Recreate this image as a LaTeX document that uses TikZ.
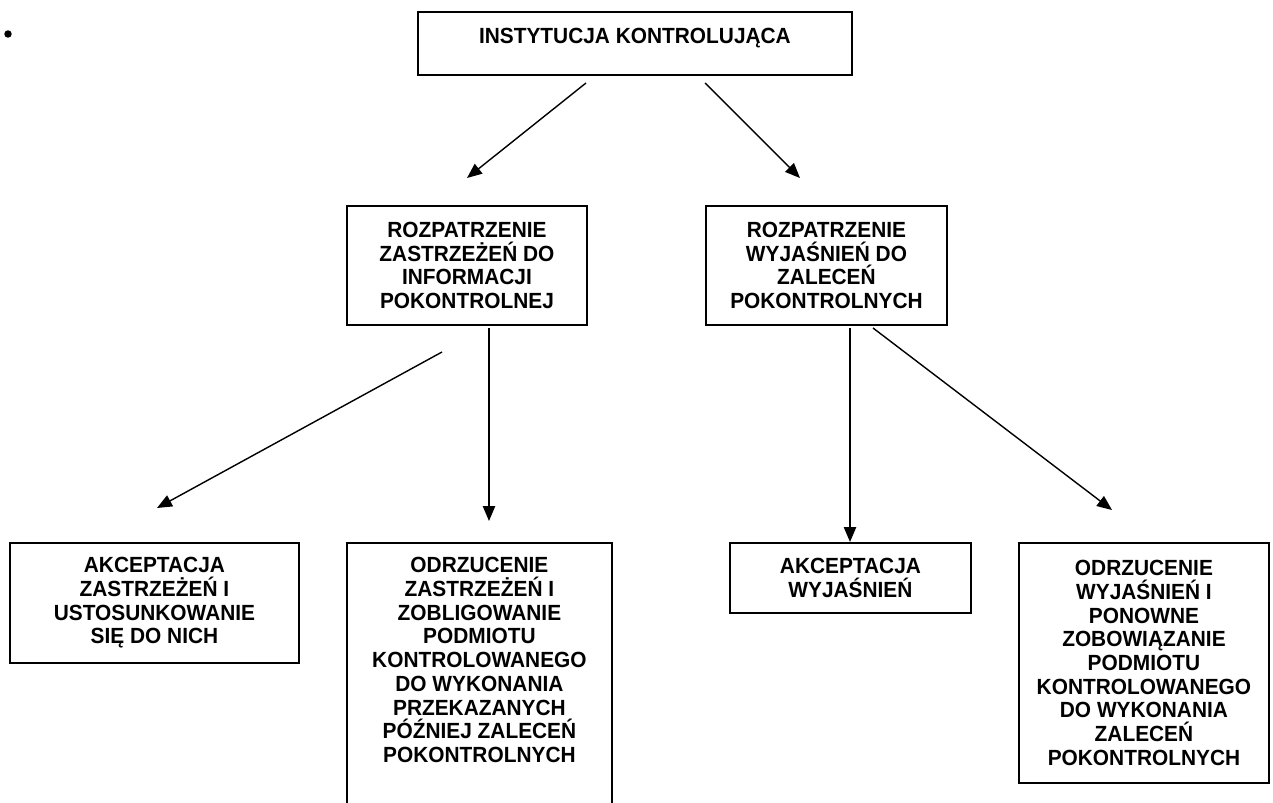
\documentclass[tikz,border=0pt]{standalone}
\usepackage{fontspec}
\setmainfont[FakeStretch=0.95]{Liberation Sans}
\usetikzlibrary{arrows.meta, calc}

\begin{document}
\begin{tikzpicture}[
			x=0.02cm, y=-0.02cm,
			ramka/.style={draw, rectangle, line width=1.1pt, align=center, inner sep=0pt, anchor=north west, font=\fontsize{12.5}{13.5}\selectfont\bfseries},
			tekst/.style={align=center, inner sep=0pt, font=\fontsize{12.5}{13.5}\selectfont\bfseries},
			strzalka/.style={-{Triangle[length=8.5pt, width=7pt]}, line width=0.8pt}
			]
			\clip (0,0) rectangle (1273,803);
			
			% Nodes
			\node[circle, fill, inner sep=1.5pt] (kropka) at (8,34) {};
			
			\node[ramka, minimum width=8.68cm, text height=0.64cm, text depth=0.62cm] (instytucja) at (417,11) {INSTYTUCJA KONTROLUJĄCA};
			
			\node[ramka, minimum width=4.8cm, minimum height=2.38cm] (zastrzezenia) at (346,205) {ROZPATRZENIE \\ ZASTRZEŻEŃ DO \\ INFORMACJI \\ POKONTROLNEJ};
			
			\node[ramka, minimum width=4.82cm, minimum height=2.38cm] (wyjasnienia) at (705,205) {ROZPATRZENIE \\ WYJAŚNIEŃ DO \\ ZALECEŃ \\ POKONTROLNYCH};
			
			\node[ramka, minimum width=5.78cm, minimum height=2.4cm] (akcZastrz) at (9,542) {AKCEPTACJA \\ ZASTRZEŻEŃ I \\ USTOSUNKOWANIE \\ SIĘ DO NICH};
			
			\node[ramka, minimum width=5.3cm, minimum height=6cm] (odrzZastrz) at (346,542) {};
			\node[tekst, anchor=north] (odrzZastrzTxt) at ($(odrzZastrz.north)+(0,15)$) {ODRZUCENIE \\ ZASTRZEŻEŃ I \\ ZOBLIGOWANIE \\ PODMIOTU \\ KONTROLOWANEGO \\ DO WYKONANIA \\ PRZEKAZANYCH \\ PÓŹNIEJ ZALECEŃ \\ POKONTROLNYCH};
			
			\node[ramka, minimum width=4.82cm, minimum height=1.4cm] (akcWyjas) at (729,542) {AKCEPTACJA \\ WYJAŚNIEŃ};
			
			\node[ramka, minimum width=5cm, minimum height=4.8cm] (odrzWyjas) at (1018,542) {ODRZUCENIE \\ WYJAŚNIEŃ I \\ PONOWNE \\ ZOBOWIĄZANIE \\ PODMIOTU \\ KONTROLOWANEGO \\ DO WYKONANIA \\ ZALECEŃ \\ POKONTROLNYCH};
			
			% Arrow ends
			\coordinate (s1) at (586,83);   \coordinate (k1) at (467,178);
			\coordinate (s2) at (705,83);   \coordinate (k2) at (800,178);
			\coordinate (s3) at (442,352);  \coordinate (k3) at (157,508);
			\coordinate (s4) at (489,328);  \coordinate (k4) at (489,521);
			\coordinate (s5) at (850,328);  \coordinate (k5) at (850,542);
			\coordinate (s6) at (873,328);  \coordinate (k6) at (1112,510);
			
			% Arrows
			\draw[strzalka] (s1) -- (k1);
			\draw[strzalka] (s2) -- (k2);
			\draw[strzalka] (s3) -- (k3);
			\draw[strzalka] (s4) -- (k4);
			\draw[strzalka] (s5) -- (k5);
			\draw[strzalka] (s6) -- (k6);
			
		\end{tikzpicture}
\end{document}
